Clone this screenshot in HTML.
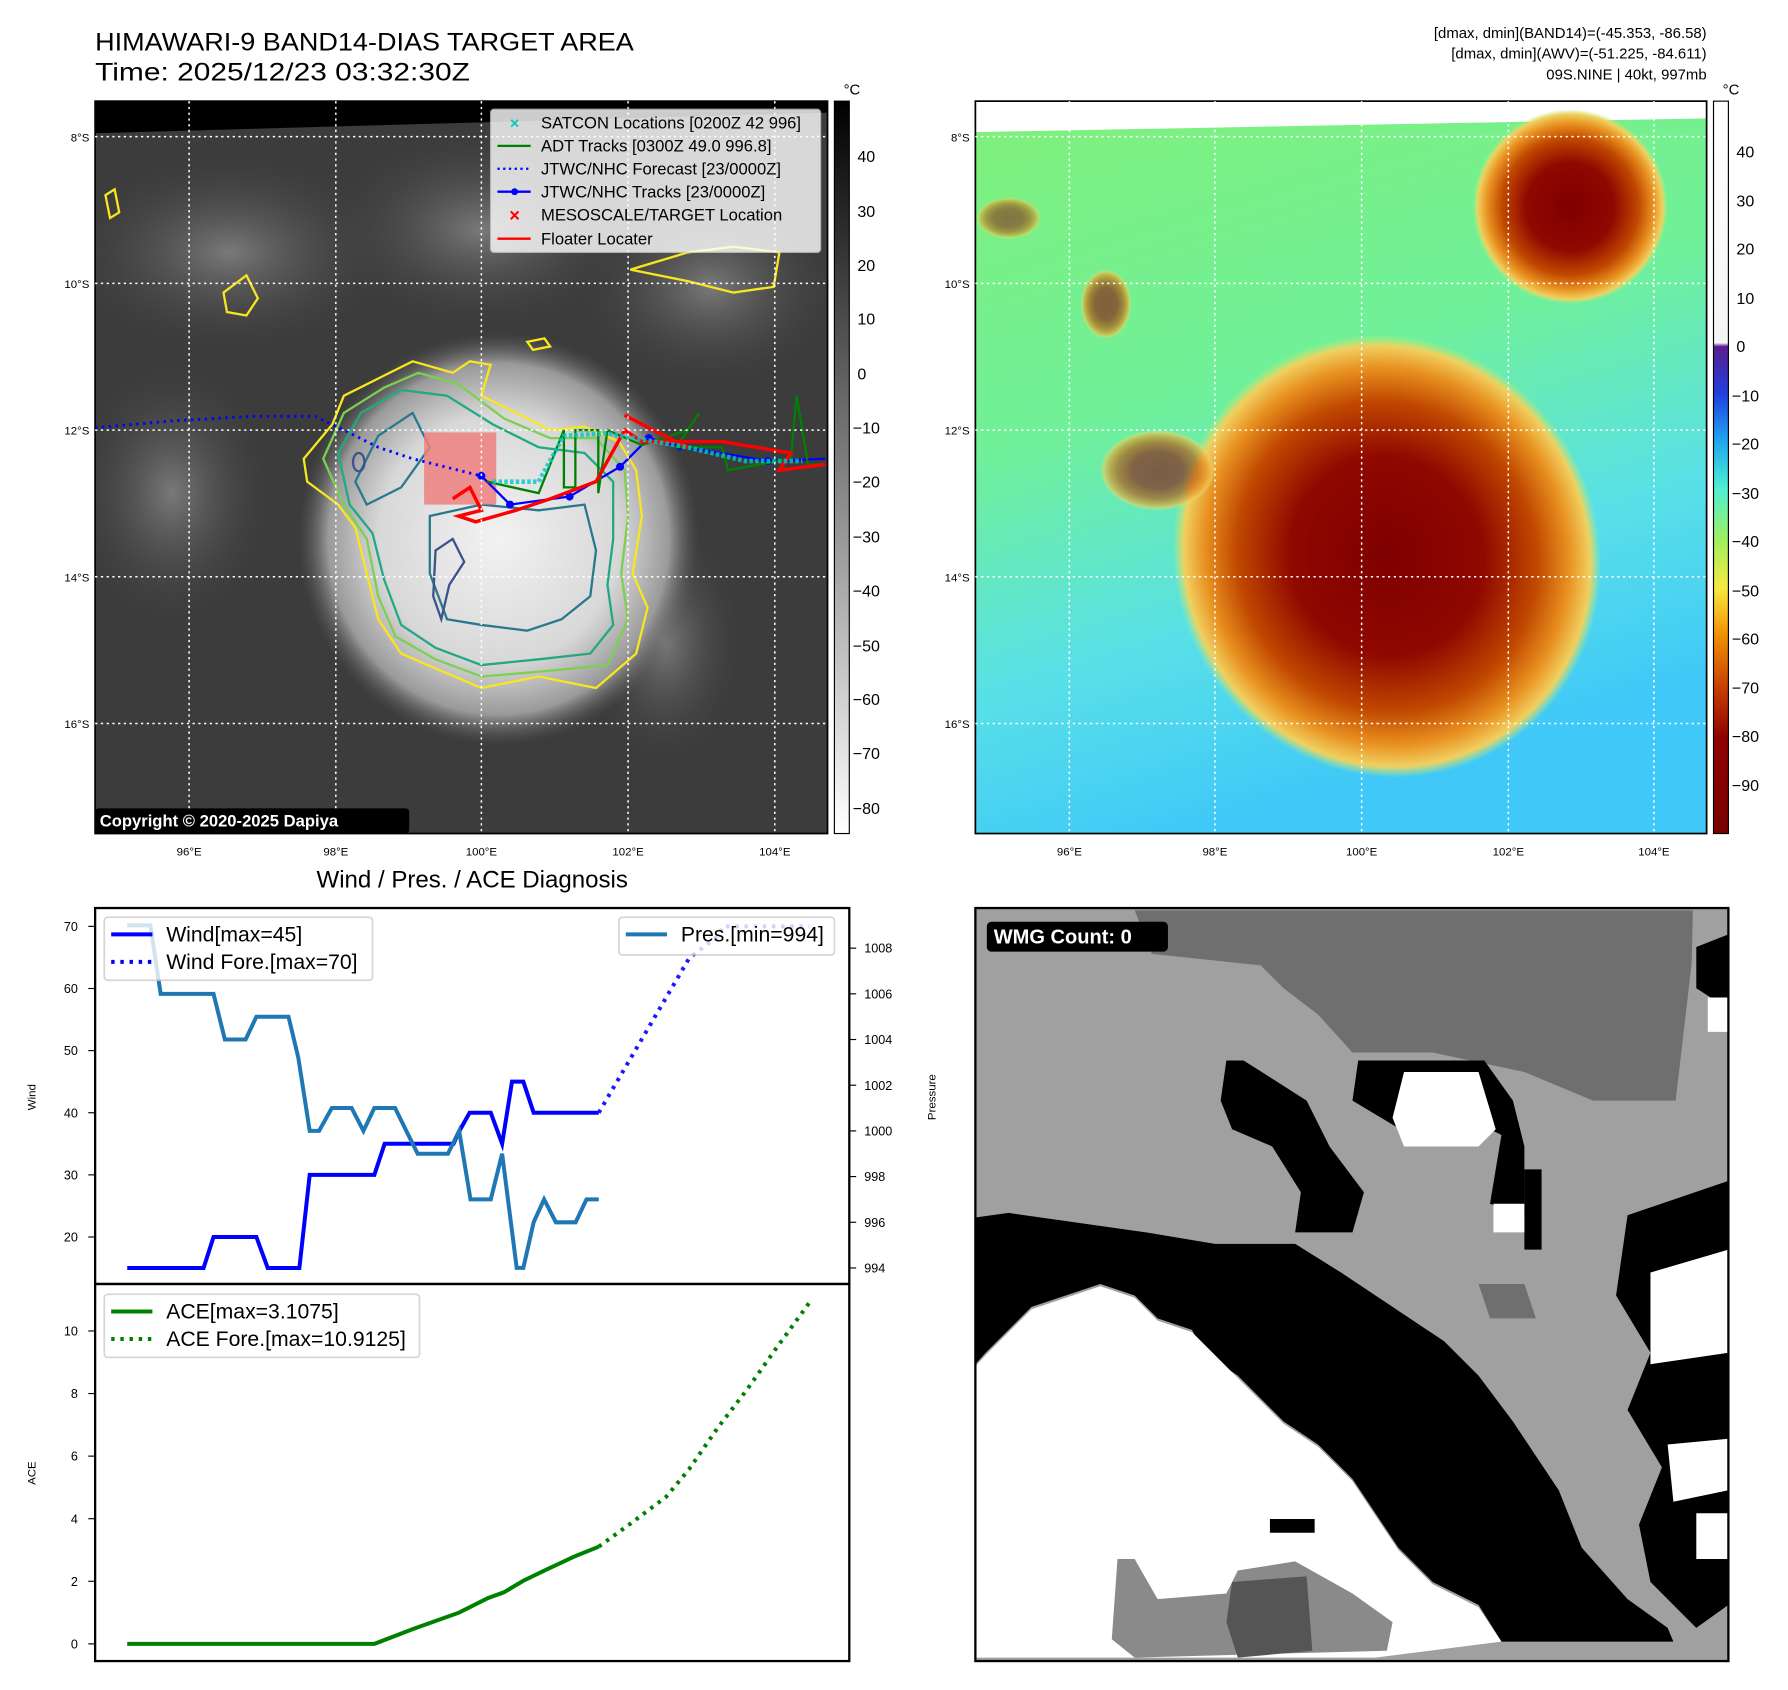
<!DOCTYPE html>
<html><head><meta charset="utf-8"><style>
html,body{margin:0;padding:0;background:#fff;}
svg{display:block;font-family:"Liberation Sans","DejaVu Sans",sans-serif;}
</style></head><body>
<svg id="fig" width="1788" height="1690" viewBox="0 0 1560 1474" xmlns="http://www.w3.org/2000/svg">
<defs>
<linearGradient id="gcb" x1="0" y1="0" x2="0" y2="1"><stop offset="0" stop-color="#000"/><stop offset="1" stop-color="#fff"/></linearGradient>
<linearGradient id="ccb" x1="0" y1="0" x2="0" y2="1">
<stop offset="0" stop-color="#fff"/><stop offset="0.33" stop-color="#f4f4f4"/><stop offset="0.335" stop-color="#5a1d8f"/>
<stop offset="0.40" stop-color="#2040e0"/><stop offset="0.465" stop-color="#20a8f0"/><stop offset="0.53" stop-color="#50f0d0"/>
<stop offset="0.60" stop-color="#a0f060"/><stop offset="0.665" stop-color="#f8e840"/><stop offset="0.73" stop-color="#f09000"/>
<stop offset="0.80" stop-color="#c84000"/><stop offset="0.87" stop-color="#900000"/><stop offset="1" stop-color="#7a0000"/></linearGradient>
<radialGradient id="storm" cx="0.5" cy="0.5" r="0.5"><stop offset="0" stop-color="#f2f2f2"/><stop offset="0.6" stop-color="#d8d8d8"/><stop offset="0.85" stop-color="#9a9a9a"/><stop offset="1" stop-color="#5a5a5a" stop-opacity="0"/></radialGradient>
<radialGradient id="cloud" cx="0.5" cy="0.5" r="0.5"><stop offset="0" stop-color="#7a7a7a"/><stop offset="1" stop-color="#3c3c3c" stop-opacity="0"/></radialGradient>
<linearGradient id="sea" x1="0" y1="0" x2="0.3" y2="1"><stop offset="0" stop-color="#80f07a"/><stop offset="0.45" stop-color="#70f09a"/><stop offset="0.75" stop-color="#58e0e8"/><stop offset="1" stop-color="#40c8f8"/></linearGradient>
<radialGradient id="hot" cx="0.5" cy="0.5" r="0.5"><stop offset="0" stop-color="#7e0000"/><stop offset="0.45" stop-color="#900800"/><stop offset="0.7" stop-color="#c04800"/><stop offset="0.85" stop-color="#e89020"/><stop offset="0.95" stop-color="#f0d060"/><stop offset="1" stop-color="#c0f070" stop-opacity="0"/></radialGradient>
<clipPath id="clipL"><rect x="83" y="88" width="639" height="639"/></clipPath>
<clipPath id="clipR"><rect x="851" y="88" width="638" height="639"/></clipPath>
</defs>

<text x="83" y="44" font-size="22" textLength="470" lengthAdjust="spacingAndGlyphs">HIMAWARI-9 BAND14-DIAS TARGET AREA</text>
<text x="83" y="70" font-size="22" textLength="327" lengthAdjust="spacingAndGlyphs">Time: 2025/12/23 03:32:30Z</text>
<g font-size="13" text-anchor="end">
<text x="1489" y="33">[dmax, dmin](BAND14)=(-45.353, -86.58)</text>
<text x="1489" y="51">[dmax, dmin](AWV)=(-51.225, -84.611)</text>
<text x="1489" y="69">09S.NINE | 40kt, 997mb</text>
</g>

<g clip-path="url(#clipL)">
<rect x="83" y="88" width="639" height="639" fill="#3c3c3c"/>
<ellipse cx="200" cy="220" rx="150" ry="90" fill="url(#cloud)"/>
<ellipse cx="420" cy="200" rx="140" ry="90" fill="url(#cloud)"/>
<ellipse cx="620" cy="250" rx="120" ry="90" fill="url(#cloud)"/>
<ellipse cx="150" cy="430" rx="90" ry="120" fill="url(#cloud)"/>
<ellipse cx="580" cy="560" rx="70" ry="110" fill="url(#cloud)"/>
<ellipse cx="435" cy="470" rx="175" ry="180" fill="url(#storm)"/>
<polygon points="83,88 722,88 722,98 83,116" fill="#000"/>
<path d="M265,400 L290,370 300,345 330,330 360,315 395,325 410,315 428,318 420,345 450,360 480,375 510,372 540,385 555,410 560,450 552,500 565,530 555,570 520,600 470,590 420,600 385,585 350,570 330,540 320,500 310,460 295,440 268,420 Z" fill="none" stroke="#f8e620" stroke-width="2"/>
<path d="M282,400 L300,360 335,338 365,325 400,335 440,365 480,382 520,382 545,410 548,450 542,500 548,540 530,580 480,585 420,590 380,575 345,555 330,520 320,470 300,440 Z" fill="none" stroke="#7cd050" stroke-width="2"/>
<path d="M295,395 L315,360 350,340 390,345 430,370 470,390 510,395 535,420 535,470 530,510 535,545 515,570 470,575 420,580 380,565 350,545 335,505 325,465 305,440 Z" fill="none" stroke="#22a884" stroke-width="2"/>
<path d="M310,420 L330,380 360,360 375,390 350,425 320,440 Z" fill="none" stroke="#2a788e" stroke-width="2"/>
<path d="M375,450 L420,440 470,445 510,440 520,480 515,520 490,540 460,550 420,545 390,540 375,500 Z" fill="none" stroke="#2a788e" stroke-width="2"/>
<path d="M380,480 L395,470 405,490 392,510 385,540 378,520 Z" fill="none" stroke="#3b528b" stroke-width="2"/>
<ellipse cx="313" cy="403" rx="5" ry="8" fill="none" stroke="#3b528b" stroke-width="2"/>
<path d="M600,220 L640,215 680,220 675,250 640,255 600,245 550,235 Z" fill="none" stroke="#f8e620" stroke-width="2"/>
<path d="M195,255 L215,240 225,260 215,275 198,272 Z" fill="none" stroke="#f8e620" stroke-width="2"/>
<path d="M92,170 L100,165 104,185 96,190 Z" fill="none" stroke="#f8e620" stroke-width="2"/>
<path d="M460,298 L475,295 480,302 465,305 Z" fill="none" stroke="#f8e620" stroke-width="2"/>
<rect x="370" y="377" width="63" height="63" fill="#f08080" opacity="0.85"/>
<path d="M83,373 L150,367 220,363 275,363 300,375 330,390 360,400 400,410 420,415" fill="none" stroke="#0000ff" stroke-width="2.5" stroke-dasharray="2,4"/>
<polyline points="420,415 445,440 497,433 541,407 566,382 593,389 670,402 720,400" fill="none" stroke="#0000ff" stroke-width="2"/>
<g fill="#0000ff"><circle cx="420" cy="415" r="3.5"/><circle cx="445" cy="440" r="3.5"/><circle cx="497" cy="433" r="3.5"/><circle cx="541" cy="407" r="3.5"/><circle cx="566" cy="382" r="3.5"/><circle cx="593" cy="389" r="3.5"/><circle cx="670" cy="402" r="3.5"/></g>
<polyline points="425,420 470,430 492,375 492,425 502,425 502,375 522,375 522,430 530,375 560,388 600,375 610,360 590,390 630,390 635,410 690,400 695,345 705,405 720,405" fill="none" stroke="#008000" stroke-width="2"/>
<polyline points="395,435 410,425 420,445 400,450 415,455 450,445 480,435 520,420 545,375 560,385 590,385 630,385 690,395 680,410 720,405" fill="none" stroke="#ff0000" stroke-width="3"/>
<polyline points="545,362 570,375 600,390" fill="none" stroke="#ff0000" stroke-width="3"/>
<polyline points="430,420 470,420 492,380 530,378 600,390 650,402 700,402" fill="none" stroke="#00c8c8" stroke-width="4" stroke-dasharray="3,2" opacity="0.8"/>
</g>
<rect x="83" y="88" width="639" height="639" fill="none" stroke="#000" stroke-width="1.5"/>
<g stroke="#fff" stroke-width="1.3" stroke-dasharray="2,3">
<line x1="83" y1="119" x2="722" y2="119"/><line x1="83" y1="247" x2="722" y2="247"/><line x1="83" y1="375" x2="722" y2="375"/><line x1="83" y1="503" x2="722" y2="503"/><line x1="83" y1="631" x2="722" y2="631"/>
<line x1="165" y1="88" x2="165" y2="727"/><line x1="293" y1="88" x2="293" y2="727"/><line x1="420" y1="88" x2="420" y2="727"/><line x1="548" y1="88" x2="548" y2="727"/><line x1="676" y1="88" x2="676" y2="727"/>
</g>
<g>
<rect x="428" y="95" width="288" height="125" rx="3" fill="#fff" opacity="0.8" stroke="#ccc"/>
<g font-size="14.5">
<text x="472" y="112">SATCON Locations [0200Z 42 996]</text>
<text x="472" y="132">ADT Tracks [0300Z 49.0 996.8]</text>
<text x="472" y="152">JTWC/NHC Forecast [23/0000Z]</text>
<text x="472" y="172">JTWC/NHC Tracks [23/0000Z]</text>
<text x="472" y="192">MESOSCALE/TARGET Location</text>
<text x="472" y="213">Floater Locater</text>
</g>
<text x="449" y="112" font-size="14" fill="#00c8c8" text-anchor="middle" font-weight="bold">×</text>
<line x1="434" y1="127" x2="463" y2="127" stroke="#008000" stroke-width="2"/>
<line x1="434" y1="147" x2="463" y2="147" stroke="#0000ff" stroke-width="2" stroke-dasharray="2,3"/>
<line x1="434" y1="167" x2="463" y2="167" stroke="#0000ff" stroke-width="2"/><circle cx="449" cy="167" r="3" fill="#0000ff"/>
<text x="449" y="193" font-size="16" fill="#ff0000" text-anchor="middle" font-weight="bold">×</text>
<line x1="434" y1="208" x2="463" y2="208" stroke="#ff0000" stroke-width="2"/>
</g>
<rect x="83" y="705" width="274" height="22" rx="3" fill="#000"/>
<text x="87" y="721" font-size="14.5" font-weight="bold" fill="#fff">Copyright © 2020-2025 Dapiya</text>
<rect x="728" y="88" width="13" height="639" fill="url(#gcb)" stroke="#000" stroke-width="1"/>
<text x="736" y="82" font-size="13">°C</text>
<g font-size="14">
<text x="748" y="141">40</text><text x="748" y="189">30</text><text x="748" y="236">20</text><text x="748" y="283">10</text><text x="748" y="331">0</text><text x="744" y="378">−10</text><text x="744" y="425">−20</text><text x="744" y="473">−30</text><text x="744" y="520">−40</text><text x="744" y="568">−50</text><text x="744" y="615">−60</text><text x="744" y="662">−70</text><text x="744" y="710">−80</text>
</g>
<g font-size="10" text-anchor="end">
<text x="78" y="123">8°S</text><text x="78" y="251">10°S</text><text x="78" y="379">12°S</text><text x="78" y="507">14°S</text><text x="78" y="635">16°S</text>
</g>
<g font-size="10" text-anchor="middle">
<text x="165" y="746">96°E</text><text x="293" y="746">98°E</text><text x="420" y="746">100°E</text><text x="548" y="746">102°E</text><text x="676" y="746">104°E</text>
</g>

<g clip-path="url(#clipR)">
<rect x="851" y="88" width="638" height="639" fill="url(#sea)"/>
<polygon points="851,88 1489,88 1489,103 851,115" fill="#fff"/>
<ellipse cx="1210" cy="485" rx="185" ry="195" fill="url(#hot)" transform="rotate(-25 1210 485)"/>
<ellipse cx="1370" cy="180" rx="85" ry="85" fill="url(#hot)"/>
<ellipse cx="1010" cy="410" rx="50" ry="35" fill="url(#hot)" opacity="0.6"/>
<ellipse cx="965" cy="265" rx="22" ry="30" fill="url(#hot)" opacity="0.6"/>
<ellipse cx="880" cy="190" rx="28" ry="18" fill="url(#hot)" opacity="0.5"/>
</g>
<rect x="851" y="88" width="638" height="639" fill="none" stroke="#000" stroke-width="1.5"/>
<g stroke="#fff" stroke-width="1.3" stroke-dasharray="2,3">
<line x1="851" y1="119" x2="1489" y2="119"/><line x1="851" y1="247" x2="1489" y2="247"/><line x1="851" y1="375" x2="1489" y2="375"/><line x1="851" y1="503" x2="1489" y2="503"/><line x1="851" y1="631" x2="1489" y2="631"/>
<line x1="933" y1="88" x2="933" y2="727"/><line x1="1060" y1="88" x2="1060" y2="727"/><line x1="1188" y1="88" x2="1188" y2="727"/><line x1="1316" y1="88" x2="1316" y2="727"/><line x1="1443" y1="88" x2="1443" y2="727"/>
</g>
<rect x="1495" y="88" width="13" height="639" fill="url(#ccb)" stroke="#000" stroke-width="1"/>
<text x="1503" y="82" font-size="13">°C</text>
<g font-size="14">
<text x="1515" y="137">40</text><text x="1515" y="180">30</text><text x="1515" y="222">20</text><text x="1515" y="265">10</text><text x="1515" y="307">0</text><text x="1511" y="350">−10</text><text x="1511" y="392">−20</text><text x="1511" y="435">−30</text><text x="1511" y="477">−40</text><text x="1511" y="520">−50</text><text x="1511" y="562">−60</text><text x="1511" y="605">−70</text><text x="1511" y="647">−80</text><text x="1511" y="690">−90</text>
</g>
<g font-size="10" text-anchor="end">
<text x="846" y="123">8°S</text><text x="846" y="251">10°S</text><text x="846" y="379">12°S</text><text x="846" y="507">14°S</text><text x="846" y="635">16°S</text>
</g>
<g font-size="10" text-anchor="middle">
<text x="933" y="746">96°E</text><text x="1060" y="746">98°E</text><text x="1188" y="746">100°E</text><text x="1316" y="746">102°E</text><text x="1443" y="746">104°E</text>
</g>

<g>
<rect x="851" y="792" width="657" height="657" fill="#a0a0a0"/>
<polygon points="990,794 1477,794 1476,840 1462,960 1390,960 1330,935 1250,918 1180,918 1150,885 1120,862 1100,842 1005,832" fill="#6f6f6f"/>
<polygon points="1290,1120 1330,1120 1340,1150 1300,1150" fill="#6f6f6f"/>
<polygon points="1070,925 1085,925 1140,960 1160,1000 1190,1040 1180,1075 1130,1075 1135,1040 1110,1000 1075,985 1065,960" fill="#000"/>
<polygon points="1185,925 1295,925 1320,960 1330,1000 1330,1060 1300,1050 1310,990 1270,970 1230,990 1180,960" fill="#000"/>
<polygon points="1225,935 1290,935 1305,985 1290,1000 1225,1000 1215,975" fill="#fff"/>
<polygon points="1330,1020 1345,1020 1345,1090 1330,1090" fill="#000"/>
<polygon points="1303,1050 1330,1050 1330,1075 1303,1075" fill="#fff"/>
<polygon points="851,1062 880,1058 1000,1075 1060,1085 1130,1085 1170,1110 1230,1150 1260,1170 1290,1200 1320,1240 1360,1300 1380,1350 1420,1395 1455,1420 1460,1432 1310,1432 1290,1400 1250,1380 1220,1350 1180,1290 1150,1260 1120,1240 1080,1200 1050,1180 1040,1160 1010,1150 990,1130 960,1120 900,1140 860,1180 851,1190" fill="#000"/>
<polygon points="851,1192 860,1182 900,1142 960,1122 990,1132 1010,1152 1040,1162 1080,1202 1120,1242 1150,1262 1180,1292 1220,1352 1250,1382 1290,1402 1310,1432 1200,1446 851,1446" fill="#fff"/>
<polygon points="975,1360 990,1360 1010,1395 1070,1390 1080,1370 1130,1362 1180,1390 1215,1415 1210,1440 990,1446 970,1430" fill="#8a8a8a"/>
<polygon points="1075,1380 1140,1375 1145,1440 1080,1446 1070,1415" fill="#555"/>
<polygon points="1108,1325 1147,1325 1147,1337 1108,1337" fill="#000"/>
<polygon points="1420,1060 1508,1030 1508,1400 1480,1420 1440,1380 1430,1330 1450,1280 1420,1230 1440,1180 1410,1130" fill="#000"/>
<polygon points="1440,1110 1508,1090 1508,1180 1440,1190" fill="#fff"/>
<polygon points="1455,1260 1508,1255 1508,1300 1460,1310" fill="#fff"/>
<polygon points="1480,1320 1508,1320 1508,1360 1480,1360" fill="#fff"/>
<polygon points="1480,826 1508,815 1508,880 1480,862" fill="#000"/>
<polygon points="1490,870 1508,870 1508,900 1490,900" fill="#fff"/>
<rect x="851" y="792" width="657" height="657" fill="none" stroke="#000" stroke-width="2"/>
<rect x="861" y="804" width="158" height="26" rx="4" fill="#000"/>
<text x="867" y="823" font-size="17.5" font-weight="bold" fill="#fff">WMG Count: 0</text>
</g>

<text x="412" y="774" font-size="21" text-anchor="middle">Wind / Pres. / ACE Diagnosis</text>
<g id="charts"></g>
</svg>
<script>
const windT = [0,16.2,18.3,27.4,29.8,36.5,38.7,52.4,54.6,69.2,70.4,72.6,77.1,79.5,81.6,84.0,86.2,100];
const windV = [15,15,20,20,15,15,30,30,35,35,37,40,40,35,45,45,40,40];
const windFcT = [100,119.2,125.2,126.4,144.7];
const windFcV = [40,64.9,68.4,70,70];
const presT = [0,4.9,7.1,18.3,20.7,25.1,27.4,34.2,36.3,38.7,40.7,43.4,47.6,50.1,52.4,56.8,59.2,61.6,68.0,70.4,72.8,77.1,79.5,82.6,84.0,86.2,88.4,90.9,95.1,97.4,100];
const presV = [1009,1009,1006,1006,1004,1004,1005,1005,1003.2,1000,1000,1001,1001,1000,1001,1001,1000,999,999,1000,997,997,999,994,994,996,997,996,996,997,997];
const aceT = [0,52.4,60.7,70.4,76.5,79.9,84.0,88.7,94.8,100];
const aceV = [0,0,0.48,1.0,1.46,1.65,2.02,2.36,2.79,3.1075];
const aceFcT = [100,106.9,114.3,119.1,125.2,131.3,137.4,144.7];
const aceFcV = [3.1075,3.86,4.7,5.57,6.9,8.1,9.4,10.9125];
const windTicks = [20,30,40,50,60,70];
const presTicks = [994,996,998,1000,1002,1004,1006,1008];
const aceTicks = [0,2,4,6,8,10];

const NS = 'http://www.w3.org/2000/svg';
const root = document.getElementById('charts');
const xs = t => 111 + t * 4.114;
const yWind = v => 808 + (70 - v) * 5.42;
const yPres = v => 827 + (1008 - v) * 19.93;
const yAce = v => 1434 - v * 27.3;
function mk(tag, attrs, parent){const e=document.createElementNS(NS,tag);for(const k in attrs)e.setAttribute(k,attrs[k]);(parent||root).appendChild(e);return e;}
function pts(T,V,fy){return T.map((t,i)=>xs(t).toFixed(1)+','+fy(V[i]).toFixed(1)).join(' ');}
function txt(x,y,s,size,anchor,parent){const e=mk('text',{x:x,y:y,'font-size':size,'text-anchor':anchor||'start'},parent);e.textContent=s;return e;}

let f1 = mk('rect',{x:83,y:792,width:658,height:328,fill:'none',stroke:'#000','stroke-width':2});


let f2 = mk('rect',{x:83,y:1120,width:658,height:329,fill:'none',stroke:'#000','stroke-width':2});



windTicks.forEach(v=>{
  const y=yWind(v);
  mk('line',{x1:77,y1:y,x2:83,y2:y,stroke:'#000','stroke-width':1});
  const t=txt(68,y+4,String(v),11,'end');
  
  
});
presTicks.forEach(v=>{
  const y=yPres(v);
  mk('line',{x1:741,y1:y,x2:747,y2:y,stroke:'#000','stroke-width':1});
  const t=txt(754,y+4,String(v),11,'start');
  
  
});
aceTicks.forEach(v=>{
  const y=yAce(v);
  mk('line',{x1:77,y1:y,x2:83,y2:y,stroke:'#000','stroke-width':1});
  const t=txt(68,y+4,String(v),11,'end');
  
  
});
let yl1=txt(0,0,'Wind',10,'middle');yl1.setAttribute('transform','translate(31,957) rotate(-90)');


let yl2=txt(0,0,'Pressure',10,'middle');yl2.setAttribute('transform','translate(816,957) rotate(-90)');


let yl3=txt(0,0,'ACE',10,'middle');yl3.setAttribute('transform','translate(31,1285) rotate(-90)');



let wf = mk('polyline',{points:pts(windFcT,windFcV,yWind),fill:'none',stroke:'#0000ff','stroke-width':3.5,'stroke-dasharray':'3,5',opacity:0.9});


let wl = mk('polyline',{points:pts(windT,windV,yWind),fill:'none',stroke:'#0000ff','stroke-width':3.5});


let pl = mk('polyline',{points:pts(presT,presV,yPres),fill:'none',stroke:'#1f77b4','stroke-width':3.5});


let al = mk('polyline',{points:pts(aceT,aceV,yAce),fill:'none',stroke:'#008000','stroke-width':3.5});


let af = mk('polyline',{points:pts(aceFcT,aceFcV,yAce),fill:'none',stroke:'#008000','stroke-width':3.5,'stroke-dasharray':'3,5'});



function legend(x,y,w,h,items,name){
  const g=mk('g',{});
  
  
  mk('rect',{x:x,y:y,width:w,height:h,rx:3,fill:'#fff',opacity:0.8,stroke:'#ccc','stroke-width':1.5},g);
  items.forEach((it,i)=>{
    const yy=y+15+i*24;
    const a={x1:x+6,y1:yy,x2:x+42,y2:yy,stroke:it.c,'stroke-width':3.5};
    if(it.d)a['stroke-dasharray']='3,5';
    mk('line',a,g);
    txt(x+54,yy+6,it.s,18.5,'start',g);
  });
}
legend(91,800,234,55,[{c:'#0000ff',s:'Wind[max=45]'},{c:'#0000ff',s:'Wind Fore.[max=70]',d:1}],'wind-legend');
legend(540,800,188,33,[{c:'#1f77b4',s:'Pres.[min=994]'}],'pressure-legend');
legend(91,1129,275,55,[{c:'#008000',s:'ACE[max=3.1075]'},{c:'#008000',s:'ACE Fore.[max=10.9125]',d:1}],'ace-legend');
</script>
</body></html>
